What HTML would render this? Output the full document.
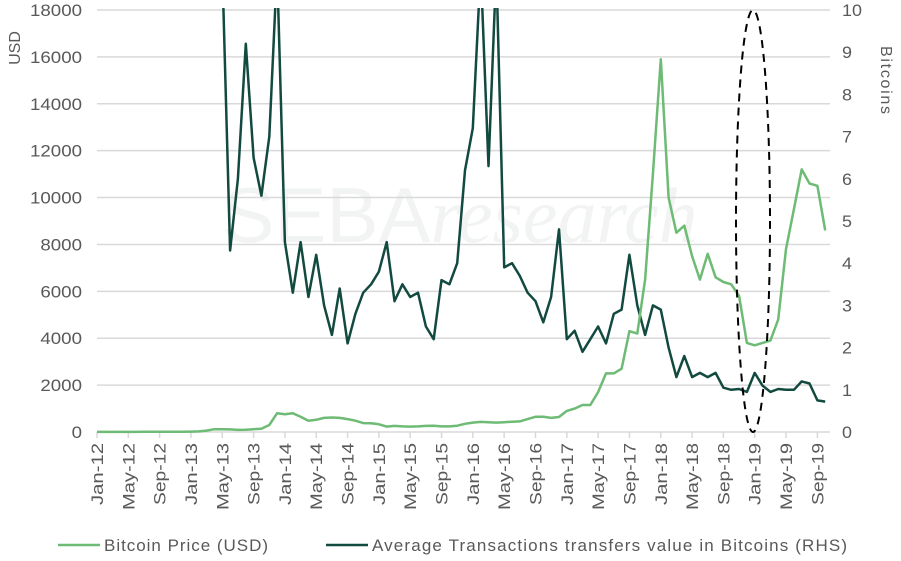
<!DOCTYPE html>
<html><head><meta charset="utf-8"><style>
body{margin:0;background:#fff}
svg{display:block;font-family:"Liberation Sans",sans-serif}
</style></head><body>
<svg id="chart" width="901" height="561" viewBox="0 0 901 561">
<text x="460" y="242" text-anchor="middle" font-size="78" fill="#f1f4f2">SEBA<tspan font-style="italic" font-family="Liberation Serif">research</tspan></text>
<g id="grid"></g><g id="axes"></g>
<defs><clipPath id="clip"><rect x="97" y="8" width="740" height="426"/></clipPath></defs>
<g id="series" clip-path="url(#clip)"></g>
<ellipse cx="753" cy="221" rx="17" ry="211" fill="none" stroke="#000" stroke-width="2" stroke-dasharray="8,6"/>
<text transform="translate(20,48) rotate(-90)" text-anchor="middle" font-size="16" fill="#595959">USD</text>
<text transform="translate(881,80) rotate(90)" text-anchor="middle" font-size="16" fill="#595959" textLength="68">Bitcoins</text>
<g>
<line x1="58" y1="545" x2="100" y2="545" stroke="#6dbb74" stroke-width="2.5"/>
<text x="104" y="551" font-size="17" fill="#595959" textLength="164">Bitcoin Price (USD)</text>
<line x1="326" y1="545" x2="368" y2="545" stroke="#124a3f" stroke-width="2.5"/>
<text x="372" y="551" font-size="17" fill="#595959" textLength="475">Average Transactions transfers value in Bitcoins (RHS)</text>
</g>
</svg>
<script>
const monthLabels=["Jan-12","May-12","Sep-12","Jan-13","May-13","Sep-13","Jan-14","May-14","Sep-14","Jan-15","May-15","Sep-15","Jan-16","May-16","Sep-16","Jan-17","May-17","Sep-17","Jan-18","May-18","Sep-18","Jan-19","May-19","Sep-19"];
const leftTicks=[0,2000,4000,6000,8000,10000,12000,14000,16000,18000];
const rightTicks=[0,1,2,3,4,5,6,7,8,9,10];
const priceUSD=[6,5,5,5,5,6,8,10,12,12,11,13,
15,25,60,120,120,110,90,100,120,140,300,800,
760,800,650,480,520,600,620,600,550,480,380,370,
330,230,260,240,230,240,260,270,240,240,270,350,
400,430,420,400,420,440,450,550,650,650,600,640,
900,1000,1150,1150,1700,2500,2500,2700,4300,4200,6500,11000,
15900,10000,8500,8800,7500,6500,7600,6600,6400,6300,5800,3800,
3700,3800,3900,4800,7800,9500,11200,10600,10500,8600];
const txBTC=[null,null,null,null,null,null,null,null,null,null,null,null,
null,null,null,null,11,4.3,6,9.2,6.5,5.6,7,11,
4.5,3.3,4.5,3.2,4.2,3,2.3,3.4,2.1,2.8,3.3,3.5,
3.8,4.5,3.1,3.5,3.2,3.3,2.5,2.2,3.6,3.5,4,6.2,
7.2,11,6.3,11,3.9,4,3.7,3.3,3.1,2.6,3.2,4.8,
2.2,2.4,1.9,2.2,2.5,2.1,2.8,2.9,4.2,3,2.3,3,
2.9,2,1.3,1.8,1.3,1.4,1.3,1.4,1.05,1,1.02,0.95,
1.4,1.1,0.95,1.02,1,1,1.2,1.15,0.75,0.72];
const NS="http://www.w3.org/2000/svg";
const x0=97,pxMonth=7.83,yBase=432,yTop=10;
const xOf=m=>x0+m*pxMonth;
const yL=v=>yBase-(v/18000)*(yBase-yTop);
const yR=v=>yBase-(v/10)*(yBase-yTop);
function mk(tag,attrs,parent){const e=document.createElementNS(NS,tag);for(const k in attrs)e.setAttribute(k,attrs[k]);parent.appendChild(e);return e;}
const grid=document.getElementById('grid'),axes=document.getElementById('axes'),series=document.getElementById('series');
leftTicks.forEach(v=>{
  const l=mk('line',{x1:97,x2:830,y1:yL(v),y2:yL(v),stroke:'#d9d9d9','stroke-width':1.5},grid);
  
  
  const s=String(v);
  const t=mk('text',{x:82,y:yL(v)+6,'text-anchor':'end','font-size':17,fill:'#595959',textLength:s.length*10.4,lengthAdjust:'spacingAndGlyphs'},axes);
  t.textContent=s;
  
  
});
rightTicks.forEach(v=>{
  const s=String(v);
  const t=mk('text',{x:842,y:yR(v)+6,'font-size':17,fill:'#595959',textLength:s.length*10,lengthAdjust:'spacingAndGlyphs'},axes);
  t.textContent=s;
  
  
});
monthLabels.forEach((s,i)=>{
  const x=xOf(i*4);
  const tk=mk('line',{x1:x,x2:x,y1:432,y2:438,stroke:'#d9d9d9','stroke-width':1.5},axes);
  
  
  const len=s.startsWith('May')?67:62;
  const t=mk('text',{transform:`translate(${x+6},443) rotate(-90)`,'text-anchor':'end','font-size':17,fill:'#595959',textLength:len,lengthAdjust:'spacingAndGlyphs'},axes);
  t.textContent=s;
  
  
});
function path(arr,yf){let d='',pen=false;arr.forEach((v,i)=>{if(v==null){pen=false;return;}d+=(pen?'L':'M')+xOf(i).toFixed(1)+','+yf(v).toFixed(1);pen=true;});return d;}
const tx=mk('path',{d:path(txBTC,yR),fill:'none',stroke:'#124a3f','stroke-width':2.5,'stroke-linejoin':'round'},series);


const pr=mk('path',{d:path(priceUSD,yL),fill:'none',stroke:'#6dbb74','stroke-width':2.5,'stroke-linejoin':'round'},series);


</script>
</body></html>
